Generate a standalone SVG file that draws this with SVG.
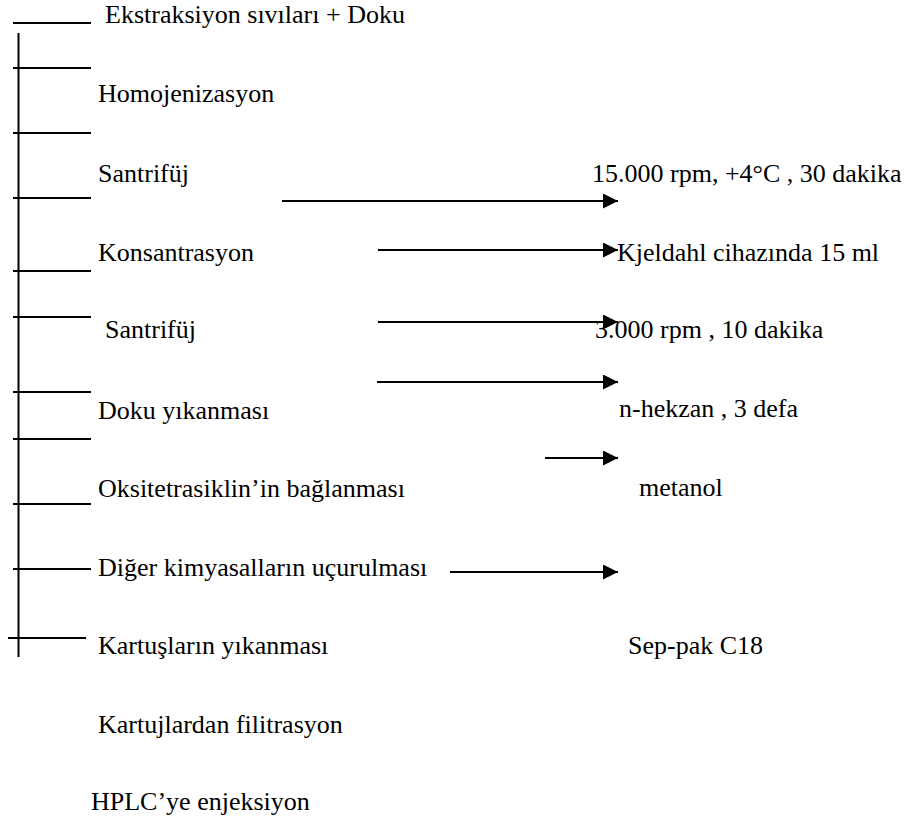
<svg xmlns="http://www.w3.org/2000/svg" width="912" height="820" viewBox="0 0 912 820">
<style>
.t text{font-size:26px;fill:#000}
.ln{stroke:#000;stroke-width:2;fill:none}
.ar{stroke:#000;stroke-width:2;fill:none;marker-end:url(#ah)}
</style>
<defs>
<marker id="ah" markerUnits="userSpaceOnUse" markerWidth="16" markerHeight="16" refX="15" refY="7.5" orient="auto">
<path d="M0,0 L15,7.5 L0,15 Z" fill="#000"/>
</marker>
</defs>
<rect width="912" height="820" fill="#fff"/>
<g id="backbone">
<line class="ln" x1="13" y1="23" x2="91" y2="23"/>
<line class="ln" x1="18.5" y1="33" x2="18.5" y2="657"/>
<line class="ln" x1="13" y1="68" x2="91" y2="68"/>
<line class="ln" x1="13" y1="133" x2="91" y2="133"/>
<line class="ln" x1="13" y1="198" x2="91" y2="198"/>
<line class="ln" x1="13" y1="271" x2="91" y2="271"/>
<line class="ln" x1="13" y1="317" x2="91" y2="317"/>
<line class="ln" x1="13" y1="392" x2="91" y2="392"/>
<line class="ln" x1="13" y1="439" x2="91" y2="439"/>
<line class="ln" x1="13" y1="504" x2="91" y2="504"/>
<line class="ln" x1="13" y1="569" x2="91" y2="569"/>
<line class="ln" x1="8" y1="638" x2="86" y2="638"/>
</g>
<g class="t" font-family="'Liberation Serif', Tinos, 'Times New Roman', 'DejaVu Serif', serif">
<g id="steps">
<g id="s1"><text x="105" y="23">Ekstraksiyon sıvıları + Doku</text></g>
<g id="s2"><text x="98" y="102">Homojenizasyon</text></g>
<g id="s3"><text x="98" y="182">Santrifüj</text></g>
<g id="s4"><text x="98" y="261">Konsantrasyon</text></g>
<g id="s5"><text x="105" y="338">Santrifüj</text></g>
<g id="s6"><text x="98" y="419">Doku yıkanması</text></g>
<g id="s7"><text x="98" y="497">Oksitetrasiklin’in bağlanması</text></g>
<g id="s8"><text x="98" y="576">Diğer kimyasalların uçurulması</text></g>
<g id="s9"><text x="98" y="654">Kartuşların yıkanması</text></g>
<g id="s10"><text x="98" y="733">Kartujlardan filitrasyon</text></g>
<g id="s11"><text x="91" y="810">HPLC’ye enjeksiyon</text></g>
</g>
<g id="conditions">
<g id="c1"><text x="592" y="182">15.000 rpm, +4°C , 30 dakika</text></g>
<g id="c2"><text x="617" y="261">Kjeldahl cihazında 15 ml</text></g>
<g id="c3"><text x="595" y="338">3.000 rpm , 10 dakika</text></g>
<g id="c4"><text x="619" y="417">n-hekzan , 3 defa</text></g>
<g id="c5"><text x="639" y="496">metanol</text></g>
<g id="c6"><text x="628" y="654">Sep-pak C18</text></g>
</g>
</g>
<g id="connectors">
<line class="ar" x1="282" y1="201" x2="618" y2="201"/>
<line class="ar" x1="378" y1="250" x2="618" y2="250"/>
<line class="ar" x1="378" y1="322" x2="618" y2="322"/>
<line class="ar" x1="377" y1="382" x2="618" y2="382"/>
<line class="ar" x1="545" y1="458" x2="618" y2="458"/>
<line class="ar" x1="450" y1="572" x2="618" y2="572"/>
</g>
</svg>
